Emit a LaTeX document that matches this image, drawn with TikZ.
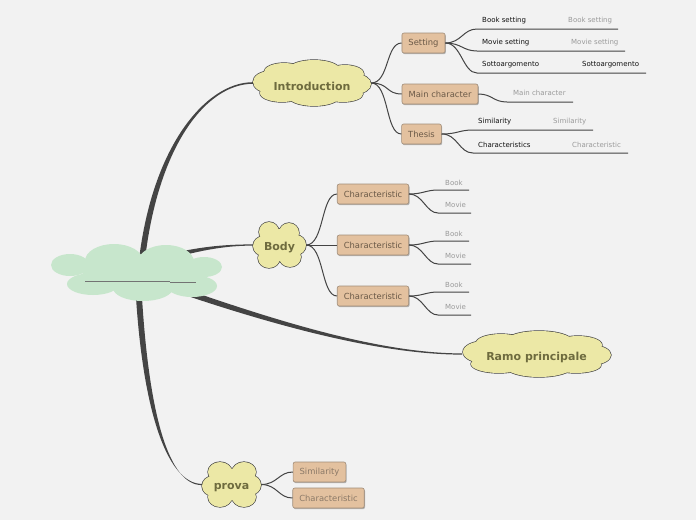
\documentclass[tikz,border=0pt]{standalone}
\usepackage{fontspec}
\setmainfont{DejaVu Sans}
\usetikzlibrary{shadows,calc,backgrounds}
\definecolor{bg}{HTML}{F2F2F2}
\definecolor{cloudy}{HTML}{ECE8A6}
\definecolor{cloudtxt}{HTML}{6E6B3E}
\definecolor{cloudg}{HTML}{C7E6CC}
\definecolor{boxf}{HTML}{E3C19F}
\definecolor{boxd}{HTML}{A08C78}
\definecolor{boxt}{HTML}{6B5A48}
\definecolor{boxtl}{HTML}{8C7A68}
\definecolor{linec}{HTML}{444444}
\definecolor{leafgc}{HTML}{9A9A9A}
\definecolor{leafkc}{HTML}{111111}
\newcommand{\lowtxt}[1]{\raisebox{-3pt}[\height][\depth]{#1}}
% a bordered cloud made of a union of ellipses
\newcommand{\ypuffs}[1]{%
  \foreach \px/\py/\ra/\rb in {#1} {\draw[draw=linec, line width=1.3pt] (\px,\py) ellipse [x radius=\ra pt, y radius=\rb pt];}
  \foreach \px/\py/\ra/\rb in {#1} {\fill[cloudy] (\px,\py) ellipse [x radius=\ra pt, y radius=\rb pt];}
}
\begin{document}
\begin{tikzpicture}[x=1pt,y=-1pt,
  topic/.style={rectangle, text=cloudtxt,
    font=\fontsize{11}{13}\selectfont\bfseries, inner sep=0pt},
  box/.style={rectangle, rounded corners=2pt, draw=boxd, line width=0.6pt, fill=boxf,
    text=boxt, font=\fontsize{8.4}{10}\selectfont, inner xsep=6.5pt, inner ysep=0pt,
    minimum height=20pt,
    drop shadow={shadow xshift=0.8pt, shadow yshift=-1.2pt, opacity=0.45, fill=black!60}},
  conn/.style={draw=linec, line width=1pt},
  branch/.style={fill=linec},
  puff/.style={fill=cloudg},
  leafk/.style={font=\fontsize{7}{8}\selectfont, text=leafkc, inner sep=0pt, anchor=west},
  leafg/.style={font=\fontsize{7}{8}\selectfont, text=leafgc, inner sep=0pt, anchor=west},
  uline/.style={draw=black!55, line width=0.8pt}
]
\useasboundingbox (0,0) rectangle (696,520);

% central topic (empty), its cloud is drawn on the background layer
\node[inner sep=0pt, minimum width=170pt, minimum height=56pt] (center) at (137,272) {};

% main topics (clouds drawn on the background layer)
\node[topic, minimum width=118pt, minimum height=46pt] (intro) at (312,83) {\lowtxt{Introduction}};
\node[topic, minimum width=53pt, minimum height=46pt] (body) at (279.5,245) {\lowtxt{Body}};
\node[topic, minimum width=149pt, minimum height=46pt] (ramo) at (536.5,354) {\lowtxt{Ramo principale}};
\node[topic, minimum width=59pt, minimum height=46pt] (prova) at (231.5,484.5) {\lowtxt{prova}};

% empty central text underline
\coordinate (u1) at (85,281);
\coordinate (u2) at (170,281);
\coordinate (u3) at (170,282);
\coordinate (u4) at (196,282);
\draw[uline] (u1) -- (u2);
\draw[uline] (u3) -- (u4);

% boxes
\node[box] (setting) at (423.5,43) {Setting};
\node[box] (mainc) at (440,94) {Main character};
\node[box] (thesis) at (421.5,134) {Thesis};
\node[box] (ch1) at (373,194) {Characteristic};
\node[box] (ch2) at (373,245) {Characteristic};
\node[box] (ch3) at (373,296) {Characteristic};
\node[box, text=boxtl] (sim) at (319.5,472) {Similarity};
\node[box, text=boxtl] (ch4) at (328.5,498) {Characteristic};

% cloud-to-box connectors
\draw[conn] (intro.east) .. controls +(18,0) and +(-16,0) .. (setting.west);
\draw[conn] (intro.east) .. controls +(18,0) and +(-16,0) .. (mainc.west);
\draw[conn] (intro.east) .. controls +(18,0) and +(-16,0) .. (thesis.west);
\draw[conn] (body.east) .. controls +(18,0) and +(-16,0) .. (ch1.west);
\draw[conn] (body.east) -- (ch2.west);
\draw[conn] (body.east) .. controls +(18,0) and +(-16,0) .. (ch3.west);
\draw[conn] (prova.east) .. controls +(16,0) and +(-14,0) .. (sim.west);
\draw[conn] (prova.east) .. controls +(16,0) and +(-14,0) .. (ch4.west);

% Setting leaves
\coordinate (s1a) at (477,29); \coordinate (s1b) at (618,29);
\coordinate (s2a) at (477,51); \coordinate (s2b) at (625,51);
\coordinate (s3a) at (477,73); \coordinate (s3b) at (646,73);
\draw[conn] (setting.east) .. controls +(16,0) and +(-14,0) .. (s1a) -- (s1b);
\draw[conn] (setting.east) .. controls +(16,0) and +(-14,0) .. (s2a) -- (s2b);
\draw[conn] (setting.east) .. controls +(16,0) and +(-14,0) .. (s3a) -- (s3b);
\node[leafk] (t1) at (482,20.5) {Book setting};
\node[leafg] (t1g) at (568,20.5) {Book setting};
\node[leafk] (t2) at (482,42.5) {Movie setting};
\node[leafg] (t2g) at (571,42.5) {Movie setting};
\node[leafk] (t3) at (482,65) {Sottoargomento};
\node[leafk] (t3g) at (582,65) {Sottoargomento};

% Main character leaf
\coordinate (m1a) at (507,102); \coordinate (m1b) at (573,102);
\draw[conn] (mainc.east) .. controls +(14,0) and +(-14,0) .. (m1a) -- (m1b);
\node[leafg] (t4) at (513,93) {Main character};

% Thesis leaves
\coordinate (h1a) at (473,130); \coordinate (h1b) at (593,130);
\coordinate (h2a) at (473,153); \coordinate (h2b) at (628,153);
\draw[conn] (thesis.east) .. controls +(16,0) and +(-14,0) .. (h1a) -- (h1b);
\draw[conn] (thesis.east) .. controls +(16,0) and +(-14,0) .. (h2a) -- (h2b);
\node[leafk] (t5) at (478,122) {Similarity};
\node[leafg] (t5g) at (553,122) {Similarity};
\node[leafk] (t6) at (478,144.5) {Characteristics};
\node[leafg] (t6g) at (572,144.5) {Characteristic};

% Body leaves
\coordinate (b1a) at (438,190); \coordinate (b1b) at (469,190);
\coordinate (b2a) at (438,213); \coordinate (b2b) at (471,213);
\coordinate (b3a) at (438,241); \coordinate (b3b) at (469,241);
\coordinate (b4a) at (438,264); \coordinate (b4b) at (471,264);
\coordinate (b5a) at (438,292); \coordinate (b5b) at (469,292);
\coordinate (b6a) at (438,315); \coordinate (b6b) at (471,315);
\draw[conn] (ch1.east) .. controls +(14,0) and +(-12,0) .. (b1a) -- (b1b);
\draw[conn] (ch1.east) .. controls +(14,0) and +(-12,0) .. (b2a) -- (b2b);
\draw[conn] (ch2.east) .. controls +(14,0) and +(-12,0) .. (b3a) -- (b3b);
\draw[conn] (ch2.east) .. controls +(14,0) and +(-12,0) .. (b4a) -- (b4b);
\draw[conn] (ch3.east) .. controls +(14,0) and +(-12,0) .. (b5a) -- (b5b);
\draw[conn] (ch3.east) .. controls +(14,0) and +(-12,0) .. (b6a) -- (b6b);
\node[leafg] (k1) at (445,182.5) {Book};
\node[leafg] (k2) at (445,204.5) {Movie};
\node[leafg] (k3) at (445,233.5) {Book};
\node[leafg] (k4) at (445,255.5) {Movie};
\node[leafg] (k5) at (445,284.5) {Book};
\node[leafg] (k6) at (445,306.5) {Movie};

% main tapered branches and clouds, behind everything
\begin{scope}[on background layer]
\fill[bg] (0,0) rectangle (696,520);
\fill[branch] (137,279.8) .. controls (147,149.8) and (205,82.2) .. ($(intro.west)+(0,-0.8)$)
  -- ($(intro.west)+(0,0.8)$) .. controls (205,83.8) and (153,150.2) .. (143,280.2) -- cycle;
\fill[branch] (149.3,259.6) .. controls (189.3,247.6) and (220,244.4) .. ($(body.west)+(0,-0.6)$)
  -- ($(body.west)+(0,0.6)$) .. controls (220,245.6) and (190.7,252.4) .. (150.7,264.4) -- cycle;
\fill[branch] (151,277.2) .. controls (251,312.2) and (370,353.4) .. ($(ramo.west)+(0,-0.6)$)
  -- ($(ramo.west)+(0,0.6)$) .. controls (370,354.6) and (249,317.8) .. (149,282.8) -- cycle;
\fill[branch] (135,280.15) .. controls (142,420.15) and (170,483.9) .. ($(prova.west)+(0,-0.6)$)
  -- ($(prova.west)+(0,0.6)$) .. controls (170,485.1) and (148,419.85) .. (141,279.85) -- cycle;
% central green cloud made of puffs
\fill[puff] (140,272) ellipse [x radius=58pt, y radius=16pt];
\fill[puff] (70,265) ellipse [x radius=19pt, y radius=11pt];
\fill[puff] (93,284) ellipse [x radius=26pt, y radius=11pt];
\fill[puff] (114,261) ellipse [x radius=29pt, y radius=17pt];
\fill[puff] (166,262) ellipse [x radius=28pt, y radius=17pt];
\fill[puff] (204,267) ellipse [x radius=18pt, y radius=10pt];
\fill[puff] (192,286) ellipse [x radius=25pt, y radius=11pt];
\fill[puff] (143,288) ellipse [x radius=30pt, y radius=13pt];
% Introduction cloud
\ypuffs{312/83/46/16, 270/82/17/11, 284/72/20/9, 314/70/26/10, 345/74/19/9,
        355/84/16/10, 343/94/20/8, 314/96/26/10, 282/93/22/9}
% Body cloud
\ypuffs{279.5/245/20/16, 269/232/10/10, 289/233/10/10, 264/246/11/10,
        296/245/10/10, 269/258/11/10, 290/257/11/10}
% Ramo principale cloud
\ypuffs{536.5/354/60/16, 484/352/21/11, 501/343/25/9, 539/341/33/10, 578/345/24/9,
        591/355/20/10, 576/365/25/8, 539/367/33/10, 499/364/28/9}
% prova cloud
\ypuffs{231.5/484.5/22/16, 220/472/12/10, 244/472/12/10, 213/486/11/10,
        250/485/11/10, 220/497/12/10, 244/497/12/10}
\end{scope}
\end{tikzpicture}
\end{document}
